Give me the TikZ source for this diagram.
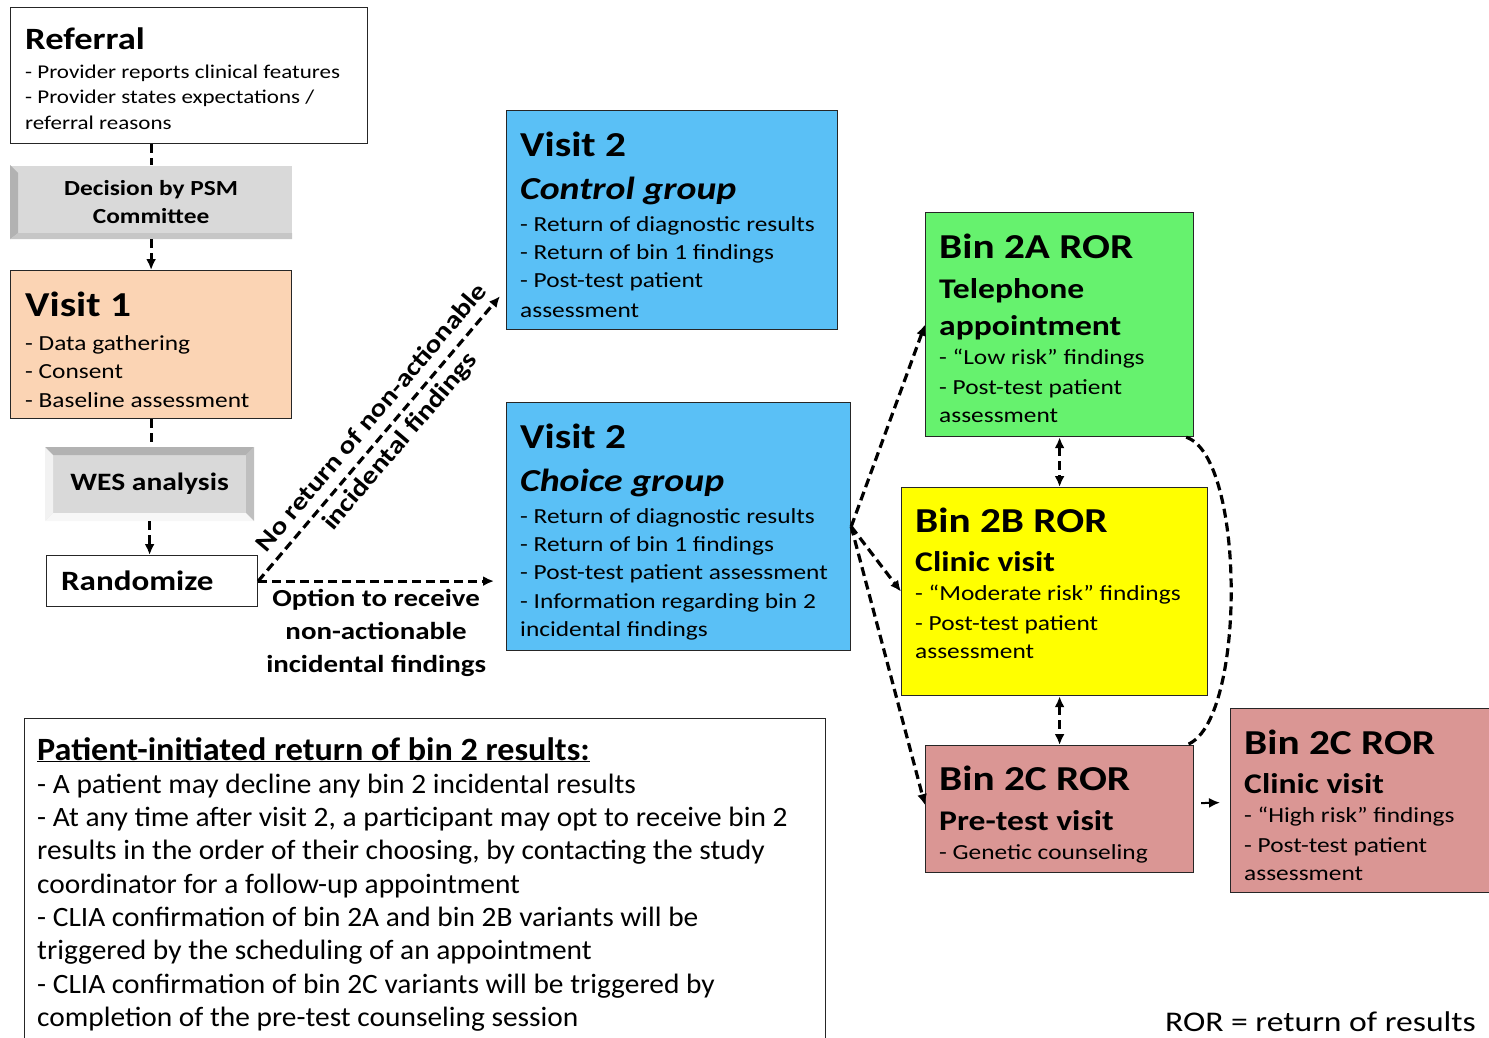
\documentclass[tikz,border=0pt]{standalone}
\usepackage{fontspec}
\setmainfont{Carlito}[FakeStretch=1.18]
\newfontfamily\narrowfont{Carlito}[FakeStretch=1.05]
\usetikzlibrary{positioning,calc,arrows.meta}

\newcommand{\wordgap}{\spaceskip=0pt\xspaceskip=0pt\relax}
\newcommand{\reftitle}{\fontsize{31}{38}\selectfont\bfseries\wordgap}
\newcommand{\boxtitle}{\fontsize{35}{40}\selectfont\bfseries\wordgap}
\newcommand{\groupfont}{\fontsize{32}{43}\selectfont\bfseries\itshape\wordgap}
\newcommand{\subfont}{\fontsize{28.5}{39}\selectfont\bfseries\wordgap}
\newcommand{\itemfont}{\fontsize{21.5}{28}\selectfont\mdseries\upshape\wordgap}
\newcommand{\smallitem}{\fontsize{19.5}{25.5}\selectfont\mdseries\wordgap}
\newcommand{\notefont}{\narrowfont\fontsize{28}{33.3}\selectfont\wordgap}

\begin{document}
\begin{tikzpicture}[x=1pt, y=-1pt, >={Latex[length=11pt, width=10pt]},
    box/.style={draw=black!85, line width=1.2pt, anchor=north west, inner sep=0pt},
    txt/.style={inner sep=0pt, align=left, text width=#1},
    flow/.style={line width=3.2pt, dash pattern=on 9pt off 5pt}]
    \definecolor{c1}{RGB}{251, 212, 180} % Peach
    \definecolor{c2}{RGB}{90, 192, 246}  % Blue
    \definecolor{c3}{RGB}{102, 242, 110} % Green
    \definecolor{c4}{RGB}{255, 255, 0}   % Yellow
    \definecolor{c5}{RGB}{218, 150, 148} % Rose
    \definecolor{c6}{RGB}{217, 217, 217} % Gray

    \useasboundingbox (0,0) rectangle (1489,1038);

    % Left column
    \node[box, minimum width=357, minimum height=136] (ref) at (10,7) {};
    \node[txt=345pt, below right=21pt and 15pt of ref.north west] (reftxt) {\reftitle Referral\\[3pt]
        \smallitem - Provider reports clinical features\\ - Provider states expectations /\\ referral reasons\par};

    \node[box, draw=none, fill=c6, minimum width=281, minimum height=73, align=center,
        font=\fontsize{21.5}{28}\selectfont\bfseries] (psm) at (10,165) {Decision by PSM\\Committee};
    \fill[gray!60] (psm.north west) -- ++(8,8) -- ($(psm.south west)+(8,-6)$) -- (psm.south west) -- cycle;
    \fill[gray!45] (psm.south west) -- ++(8,-6) -- ($(psm.south east)+(0,-6)$) -- (psm.south east) -- cycle;

    \node[box, fill=c1, minimum width=281, minimum height=148] (v1) at (10,270) {};
    \node[txt=270pt, below right=22pt and 15pt of v1.north west] (v1txt) {\boxtitle Visit 1\\[6pt]
        \itemfont - Data gathering\\ - Consent\\[1pt] - Baseline assessment\par};

    \node[box, draw=none, fill=c6, minimum width=208, minimum height=73,
        font=\fontsize{25}{28}\selectfont\bfseries] (wes) at (45,447) {WES analysis};
    \fill[gray!60] (wes.north west) -- (wes.north east) -- ++(-8,8) -- ($(wes.north west)+(8,8)$) -- cycle;
    \fill[gray!50] (wes.north east) -- (wes.south east) -- ++(-8,-8) -- ($(wes.north east)+(-8,8)$) -- cycle;
    \fill[gray!10] (wes.north west) -- ++(8,8) -- ($(wes.south west)+(8,-8)$) -- (wes.south west) -- cycle;
    \fill[gray!6] (wes.south west) -- ++(8,-8) -- ($(wes.south east)+(-8,-8)$) -- (wes.south east) -- cycle;

    \node[box, fill=white, minimum width=211, minimum height=51, text width=182pt, align=left,
        font=\fontsize{28}{30}\selectfont\bfseries] (rand) at (46,555) {Randomize};

    % Visit 2
    \node[box, fill=c2, minimum width=331, minimum height=219] (ctrl) at (506,110) {};
    \node[txt=320pt, below right=22pt and 14pt of ctrl.north west] (ctrltxt) {\boxtitle Visit 2\\
        \groupfont Control group\\[4pt] \itemfont - Return of diagnostic results\\ - Return of bin 1 findings\\
        - Post-test patient\\[2pt] assessment\par};

    \node[box, fill=c2, minimum width=344, minimum height=248] (choice) at (506,402) {};
    \node[txt=335pt, below right=22pt and 14pt of choice.north west] (choicetxt) {\boxtitle Visit 2\\
        \groupfont Choice group\\[4pt] \itemfont - Return of diagnostic results\\ - Return of bin 1 findings\\
        - Post-test patient assessment\\[1pt] - Information regarding bin 2\\ incidental findings\par};

    % Bin 2
    \node[box, fill=c3, minimum width=268, minimum height=224] (bina) at (925,212) {};
    \node[txt=260pt, below right=22pt and 14pt of bina.north west] (binatxt) {\boxtitle Bin 2A ROR\\[1pt]
        \subfont Telephone\\[-2pt] appointment\\[1pt] \itemfont - “Low risk” findings\\[2pt]
        - Post-test patient\\ assessment\par};

    \node[box, fill=c4, minimum width=306, minimum height=208] (binb) at (901,487) {};
    \node[txt=295pt, below right=21pt and 14pt of binb.north west] (binbtxt) {\boxtitle Bin 2B ROR\\
        \subfont Clinic visit\\[1pt] \itemfont - “Moderate risk” findings\\[2pt] - Post-test patient\\ assessment\par};

    \node[box, fill=c5, minimum width=268, minimum height=127] (pre) at (925,745) {};
    \node[txt=260pt, below right=21pt and 14pt of pre.north west] (pretxt) {\boxtitle Bin 2C ROR\\[1pt]
        \subfont Pre-test visit\\[1pt] \itemfont - Genetic counseling\par};

    \node[box, fill=c5, minimum width=262, minimum height=184] (clinic) at (1230,708) {};
    \node[txt=245pt, below right=22pt and 14pt of clinic.north west] (clinictxt) {\boxtitle Bin 2C ROR\\
        \subfont Clinic visit\\[1pt] \itemfont - “High risk” findings\\[2pt] - Post-test patient\\ assessment\par};

    % Note box
    \node[box, minimum width=801, minimum height=330] (note) at (24,718) {};
    \node[txt=790pt, below right=19pt and 13pt of note.north west] (notetxt) {\notefont
        {\fontsize{32.5}{34}\selectfont\bfseries\wordgap\underline{Patient-initiated return of bin 2 results:}}\\
        - A patient may decline any bin 2 incidental results\\
        - At any time after visit 2, a participant may opt to receive bin 2\\
        results in the order of their choosing, by contacting the study\\
        coordinator for a follow-up appointment\\
        - CLIA confirmation of bin 2A and bin 2B variants will be\\
        triggered by the scheduling of an appointment\\
        - CLIA confirmation of bin 2C variants will be triggered by\\
        completion of the pre-test counseling session\par};

    \node[anchor=base east, inner sep=0pt, font=\fontsize{28.5}{30}\selectfont] (legend) at (1476,1031) {ROR = return of results};

    % Connectors
    \draw[flow] (ref.south -| psm.north) -- (psm.north);
    \draw[flow, ->] (psm.south) -- (v1.north -| psm.south);
    \draw[flow] (v1.south) -- (v1.south |- wes.north);
    \draw[flow, ->] (wes.south) -- (wes.south |- rand.north);

    \draw[flow, ->] (rand.east) -- ($(ctrl.south west)+(-6,-34)$)
        node[pos=0.53, sloped, align=center, font=\fontsize{25}{37}\selectfont\bfseries] (noret)
        {No return of non-actionable\\incidental findings};
    \draw[flow, ->] (rand.east) -- ($(choice.west |- rand.east)+(-12,0)$)
        node[midway, below=3pt, align=center, font=\fontsize{24.5}{33}\selectfont\bfseries] (optlbl)
        {Option to receive\\non-actionable\\incidental findings};

    \draw[flow, ->] (choice.east) -- (bina.west);
    \draw[flow, ->] (choice.east) -- (binb.west);
    \draw[flow, ->] (choice.east) -- ($(pre.west)+(0,-4)$);
    \draw[flow, <->] (bina.south) -- (bina.south |- binb.north);
    \draw[flow, <->] (binb.south -| pre.north) -- (pre.north);
    \draw[flow] ($(bina.south east)+(-8,0)$) .. controls +(60,20) and +(60,-20) .. ($(pre.north east)+(-8,0)$);
    \draw[->, line width=2pt] ($(pre.east)+(7,-6)$) -- ($(clinic.west)+(-10,2)$);
\end{tikzpicture}
\end{document}
